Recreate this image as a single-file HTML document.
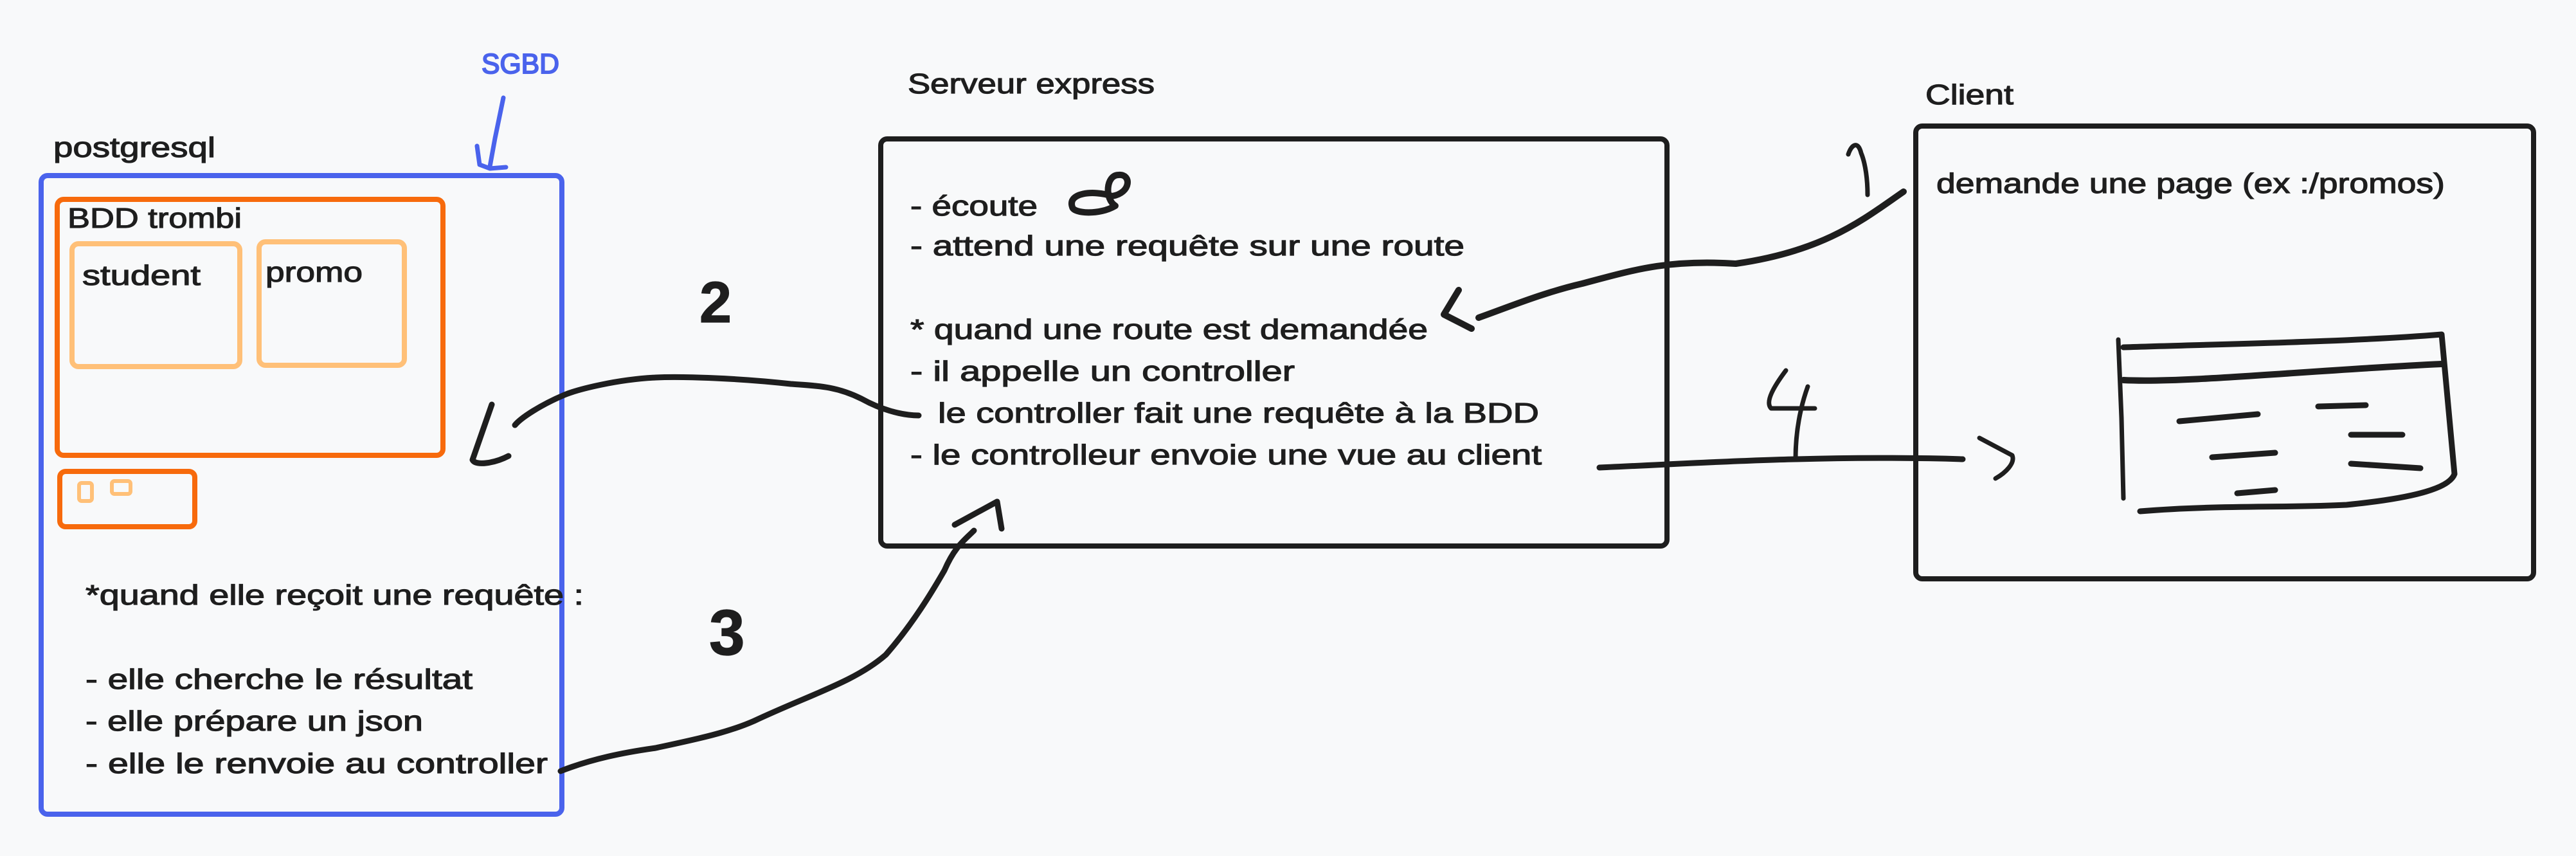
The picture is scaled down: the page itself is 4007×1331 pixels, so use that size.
<!DOCTYPE html>
<html><head><meta charset="utf-8"><style>
html,body{margin:0;padding:0;background:#f8f9fa;}
svg{display:block;}
text{font-family:"Liberation Sans",sans-serif;fill:#1e1e1e;stroke:#1e1e1e;stroke-width:1.2px;}
</style></head><body>
<svg width="4007" height="1331" viewBox="0 0 4007 1331" xmlns="http://www.w3.org/2000/svg">
<rect width="4007" height="1331" fill="#f8f9fa"/>
<g fill="none" stroke-linecap="round" stroke-linejoin="round">
<rect x="64" y="273" width="810" height="993" rx="10" stroke="#4a63ec" stroke-width="8"/>
<path d="M783 152 L770 215 L762 259 M742 227 L746 256 L762 262 L787 260" stroke="#4a63ec" stroke-width="7"/>
<rect x="89" y="310" width="600" height="398" rx="10" stroke="#f76a0c" stroke-width="8"/>
<rect x="112" y="379" width="261" height="191" rx="10" stroke="#ffc078" stroke-width="8"/>
<rect x="403" y="376" width="226" height="192" rx="10" stroke="#ffc078" stroke-width="8"/>
<rect x="93" y="733" width="210" height="86" rx="9" stroke="#f76a0c" stroke-width="8"/>
<rect x="123" y="751" width="20" height="28" rx="4" stroke="#ffc078" stroke-width="6"/>
<rect x="174" y="748" width="29" height="20" rx="4" stroke="#ffc078" stroke-width="6"/>
<rect x="1370" y="216" width="1223" height="633" rx="10" stroke="#1e1e1e" stroke-width="8"/>
<rect x="2980" y="196" width="961" height="704" rx="10" stroke="#1e1e1e" stroke-width="8"/>
<path d="M1668 322 C1660 300 1700 295 1730 305 C1760 300 1760 270 1740 272 C1720 272 1718 310 1735 320 C1710 335 1670 332 1668 322" stroke="#1e1e1e" stroke-width="10"/>
<path d="M2961 298 C2900 340 2840 390 2700 410 C2594 403 2540 420 2461 441 C2400 455 2340 480 2300 494" stroke="#1e1e1e" stroke-width="10"/>
<path d="M2269 451 L2246 489 L2289 511" stroke="#1e1e1e" stroke-width="10"/>
<path d="M1429 646 C1400 646 1367 635 1340 620 C1300 600 1270 600 1230 597 C1150 588 1060 585 1020 587 C960 590 900 605 878 614 C840 630 810 650 801 661" stroke="#1e1e1e" stroke-width="9"/>
<path d="M765 629 L735 715 C740 725 770 720 791 709" stroke="#1e1e1e" stroke-width="9"/>
<path d="M872 1199 C920 1180 970 1170 1020 1163 C1080 1150 1130 1140 1173 1121 C1260 1080 1330 1060 1378 1018 C1420 970 1450 920 1469 887 C1485 850 1500 840 1515 825" stroke="#1e1e1e" stroke-width="9"/>
<path d="M1485 816 L1551 780 L1558 822" stroke="#1e1e1e" stroke-width="9"/>
<path d="M2488 727 C2600 722 2700 716 2793 714 C2900 711 3000 712 3053 714" stroke="#1e1e1e" stroke-width="9"/>
<path d="M2793 714 C2793 680 2798 640 2812 601" stroke="#1e1e1e" stroke-width="7"/>
<path d="M2778 576 C2760 600 2745 625 2755 635 L2823 635" stroke="#1e1e1e" stroke-width="7"/>
<path d="M3079 681 L3130 708 C3135 720 3120 735 3104 744" stroke="#1e1e1e" stroke-width="7"/>
<path d="M2875 240 C2880 225 2890 218 2895 238 C2902 255 2905 280 2905 303" stroke="#1e1e1e" stroke-width="7"/>
<path d="M3295 528 L3300 650 L3303 775" stroke="#1e1e1e" stroke-width="7"/>
<path d="M3303 540 C3450 535 3650 532 3798 520 L3818 737 C3810 760 3750 775 3650 785 C3550 790 3450 785 3329 795" stroke="#1e1e1e" stroke-width="9"/>
<path d="M3303 591 C3400 596 3600 575 3798 566" stroke="#1e1e1e" stroke-width="10"/>
<path d="M3390 655 L3512 644 M3606 632 L3680 630 M3657 676 L3737 676 M3441 711 L3539 704 M3657 721 L3765 728 M3480 767 L3539 762" stroke="#1e1e1e" stroke-width="9"/>
</g>
<text x="749" y="114" font-size="44" style="fill:#4a63ec;stroke:#4a63ec;stroke-width:2px" textLength="121" lengthAdjust="spacingAndGlyphs">SGBD</text>
<text x="83" y="244" font-size="44" textLength="252" lengthAdjust="spacingAndGlyphs">postgresql</text>
<text x="105" y="354" font-size="44" textLength="271" lengthAdjust="spacingAndGlyphs">BDD trombi</text>
<text x="128" y="443" font-size="44" textLength="184" lengthAdjust="spacingAndGlyphs">student</text>
<text x="413" y="438" font-size="44" textLength="151" lengthAdjust="spacingAndGlyphs">promo</text>
<text x="133" y="940" font-size="44" textLength="775" lengthAdjust="spacingAndGlyphs">*quand elle reçoit une requête :</text>
<text x="133" y="1071" font-size="44" textLength="602" lengthAdjust="spacingAndGlyphs">- elle cherche le résultat</text>
<text x="133" y="1136" font-size="44" textLength="525" lengthAdjust="spacingAndGlyphs">- elle prépare un json</text>
<text x="133" y="1202" font-size="44" textLength="719" lengthAdjust="spacingAndGlyphs">- elle le renvoie au controller</text>
<text x="1088" y="501" font-size="90" font-weight="bold">2</text>
<text x="1103" y="1018" font-size="100" font-weight="bold">3</text>
<text x="1412" y="145" font-size="44" textLength="384" lengthAdjust="spacingAndGlyphs">Serveur express</text>
<text x="1416" y="335" font-size="44" textLength="198" lengthAdjust="spacingAndGlyphs">- écoute</text>
<text x="1416" y="397" font-size="44" textLength="862" lengthAdjust="spacingAndGlyphs">- attend une requête sur une route</text>
<text x="1416" y="527" font-size="44" textLength="805" lengthAdjust="spacingAndGlyphs">* quand une route est demandée</text>
<text x="1416" y="592" font-size="44" textLength="598" lengthAdjust="spacingAndGlyphs">- il appelle un controller</text>
<text x="1459" y="657" font-size="44" textLength="935" lengthAdjust="spacingAndGlyphs">le controller fait une requête à la BDD</text>
<text x="1416" y="722" font-size="44" textLength="982" lengthAdjust="spacingAndGlyphs">- le controlleur envoie une vue au client</text>
<text x="2995" y="162" font-size="44" textLength="137" lengthAdjust="spacingAndGlyphs">Client</text>
<text x="3012" y="300" font-size="44" textLength="791" lengthAdjust="spacingAndGlyphs">demande une page (ex :/promos)</text>
</svg>
</body></html>
